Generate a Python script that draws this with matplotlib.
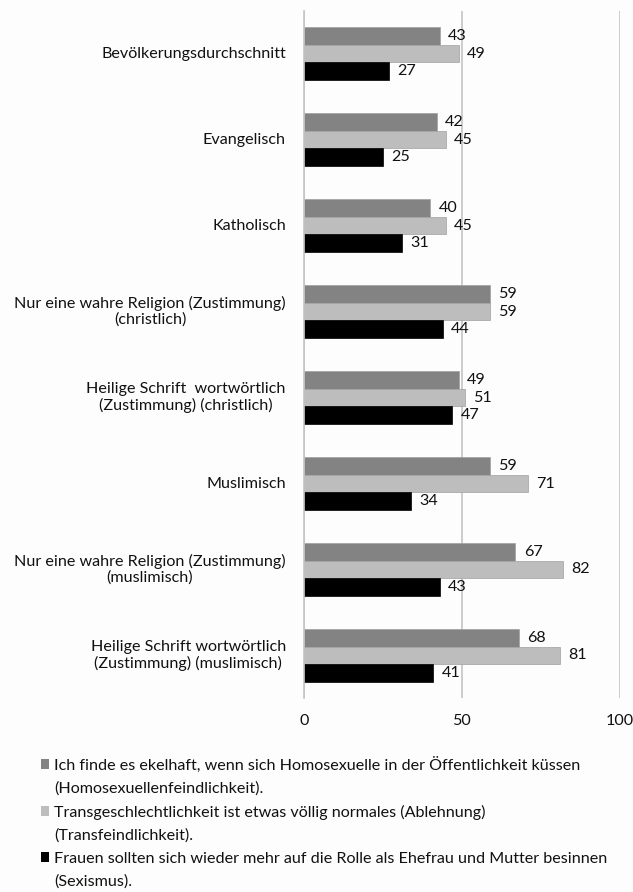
import matplotlib
matplotlib.use("Agg")
import matplotlib.pyplot as plt
from matplotlib.patches import Patch
import matplotlib.transforms as mtransforms
import numpy as np

categories = [
    "Bevölkerungsdurchschnitt",
    "Evangelisch",
    "Katholisch",
    "Nur eine wahre Religion (Zustimmung)\n(christlich)",
    "Heilige Schrift  wortwörtlich\n(Zustimmung) (christlich)",
    "Muslimisch",
    "Nur eine wahre Religion (Zustimmung)\n(muslimisch)",
    "Heilige Schrift wortwörtlich\n(Zustimmung) (muslimisch)",
]
homo = [43, 42, 40, 59, 49, 59, 67, 68]
trans = [49, 45, 45, 59, 51, 71, 82, 81]
sexism = [27, 25, 31, 44, 47, 34, 43, 41]
series_labels = [
    "Ich finde es ekelhaft, wenn sich Homosexuelle in der Öffentlichkeit küssen\n(Homosexuellenfeindlichkeit).",
    "Transgeschlechtlichkeit ist etwas völlig normales (Ablehnung)\n(Transfeindlichkeit).",
    "Frauen sollten sich wieder mehr auf die Rolle als Ehefrau und Mutter besinnen\n(Sexismus).",
]
colors = ["#838383", "#bdbdbd", "#000000"]
xticks = [0, 50, 100]

plt.rcParams["font.family"] = ["Lato", "DejaVu Sans"]
FS = 11.6

fig = plt.figure(figsize=(6.33, 8.92), dpi=100, facecolor="#fdfdfd")
ax = fig.add_axes([0.480, 0.217, 0.499, 0.771])
ax.set_facecolor("#fdfdfd")

n = len(categories)
y = np.arange(n)
h = 0.205
for i, (vals, col) in enumerate(zip([homo, trans, sexism], colors)):
    bars = ax.barh(y + (i - 1) * h, vals, height=h, color=col,
                   edgecolor="#a0a0a0" if i < 2 else "#000000", linewidth=0.5,
                   label=series_labels[i])
    ax.bar_label(bars, labels=[str(v) for v in vals], padding=6, fontsize=FS, color="#111111")

ax.set_ylim(n - 0.5, -0.5)
ax.set_xlim(0, 100)
ax.set_yticks(y)
ax.set_yticklabels([])
# category labels, centred line by line, right-aligned block next to the axis
trans_lbl = mtransforms.blended_transform_factory(ax.transAxes, ax.transData)
offset = mtransforms.ScaledTranslation(-18 / 100, 0, fig.dpi_scale_trans)
for yi, cat in zip(y, categories):
    ax.text(0, yi, cat, transform=trans_lbl + offset, ha="right", va="center",
            multialignment="center", fontsize=FS, color="#111111", linespacing=1.15)
ax.set_xticks(xticks)
ax.set_xticklabels([str(t) for t in xticks], fontsize=FS, color="#111111")
ax.tick_params(axis="both", length=0)
ax.tick_params(axis="x", pad=11)
ax.grid(axis="x", color="#c4c4c4", linewidth=1.2)
ax.set_axisbelow(True)
for s in ["top", "right", "bottom"]:
    ax.spines[s].set_visible(False)
ax.spines["left"].set_color("#c4c4c4")
ax.spines["left"].set_linewidth(1.2)

# legend: one row per text line, square handle only on the first line of each entry
handles, labels = [], []
for lab, c in zip(series_labels, colors):
    lines = lab.split("\n")
    handles.append(Patch(facecolor=c, edgecolor="none"))
    labels.append(lines[0])
    for extra in lines[1:]:
        handles.append(Patch(facecolor="none", edgecolor="none"))
        labels.append(extra)
leg = fig.legend(handles, labels, loc="upper left", bbox_to_anchor=(0.064, 0.152),
                 frameon=False, fontsize=FS, handlelength=0.55, handleheight=0.55,
                 handletextpad=0.3, labelspacing=0.55, borderaxespad=0, borderpad=0)
for t in leg.get_texts():
    t.set_color("#111111")

fig.savefig("out.png", dpi=100, facecolor=fig.get_facecolor())
